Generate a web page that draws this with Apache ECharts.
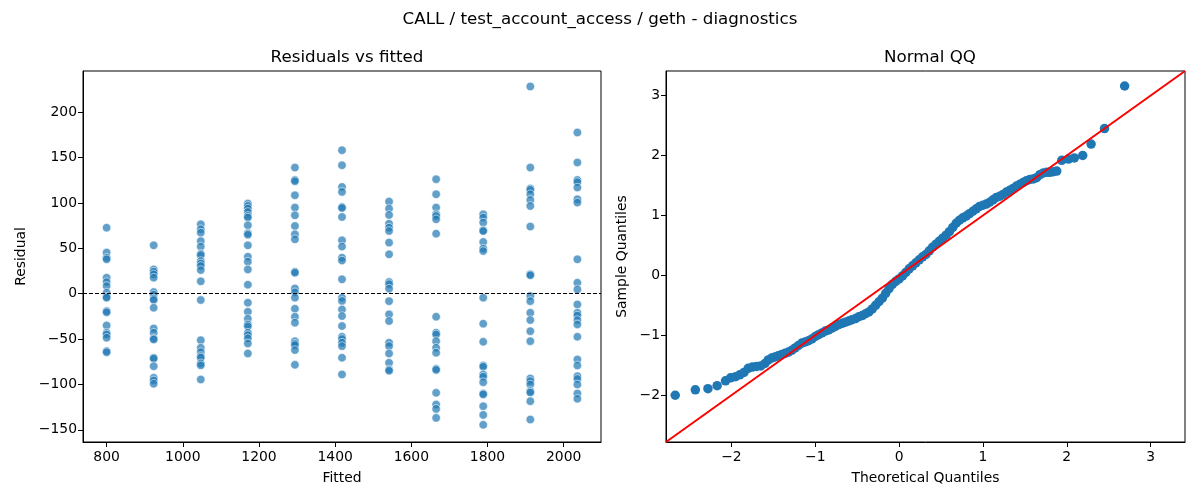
<!DOCTYPE html>
<html>
<head>
<meta charset="utf-8">
<script src="https://cdn.jsdelivr.net/npm/echarts@6/dist/echarts.min.js"></script>
<style>html,body{margin:0;padding:0;background:#fff}#c{width:1200px;height:500px}</style>
</head>
<body>
<div id="c"></div>
<script>
// ---- data ----
const fittedLevels = [800, 923.6, 1047.2, 1170.8, 1294.4, 1418, 1541.6, 1665.2, 1788.8, 1912.4, 2036];
const res800  = [72.8, 45.3, 39.7, 37.9, 17.7, 12.8, 8.4, 1.1, -3.5, -4.4, -19.2, -20.5, -35, -43, -45, -48.6, -63.3, -64.5];
const res924  = [53.3, 26.8, 24.3, 21.3, 17.7, 1.8, -1, -5.5, -7, -15.5, -38.3, -43, -49.3, -50.5, -70.6, -71.5, -79.9, -92.7, -95.6, -99.3];
const res1047 = [76.5, 71, 67.3, 58, 51.9, 44.1, 42.5, 36, 33.4, 30.5, 26, 13.6, -7, -51.2, -59.6, -64.4, -68.8, -70.5, -76.9, -79, -94.6];
const res1171 = [99.3, 96.7, 93.8, 90.1, 85.7, 83.9, 75.4, 66.6, 65, 53.3, 40.8, 35.3, 26.8, 9.9, -9.9, -19.9, -27.6, -33.9, -36, -43, -45.6, -49.3, -54.9, -65.9];
const res1294 = [139, 125.4, 124, 108.5, 94.9, 86.4, 74.6, 65.5, 59.9, 24.3, 23, 5.8, 1.5, -4.4, -16.6, -25.4, -32, -52.3, -54.9, -56.7, -62.2, -78.4];
const res1418 = [158.2, 141.6, 117.7, 112.2, 95.6, 94.5, 84.6, 58.8, 51.9, 39.7, 36.5, 15.8, -4.4, -8, -17.3, -24.7, -35.7, -47.5, -50, -54, -57.8, -70.6, -89];
const res1542 = [101.5, 93.8, 86.8, 77.2, 72.8, 69.1, 56.3, 43.4, 12.8, 10.5, 5.5, -8.2, -22.8, -30.2, -54, -57.8, -65.9, -76.2, -83.6, -85];
const res1665 = [126.2, 109.6, 94.9, 87.5, 85.7, 82, 66.2, -25.4, -43, -45, -52.3, -59.6, -65.1, -82.8, -84, -109.3, -122.2, -127, -136.9];
const res1789 = [87.5, 83.9, 78.4, 69.9, 69, 57, 49.7, 47, -4.4, -33.1, -53, -79.1, -80.5, -89, -91.5, -97.6, -110, -111, -124, -133.6, -144.6];
const res1912 = [228.5, 139, 115.9, 114.5, 109.6, 103.3, 96.7, 74, 21.3, 20.3, -2.6, -8.2, -21, -29.1, -41.3, -52.3, -93.5, -96.4, -100.1, -107.5, -109, -118.5, -138.7];
const res2036 = [177.7, 144.6, 125.4, 123, 117, 104.1, 100.4, 37.9, 12.1, 4.7, -11.8, -21, -24, -29.1, -33.9, -47.5, -72.5, -79.1, -90.9, -94, -100.1, -110, -115.9];

const qqTheoretical = [-2.67,-2.43,-2.28,-2.17,-2.07,-2.01,-1.95,-1.90,-1.85,-1.80,-1.75,-1.70,-1.65,-1.60,-1.56,-1.52,-1.48,-1.44,-1.40,-1.36,-1.32,-1.28,-1.24,-1.20,-1.16,-1.12,-1.08,-1.04,-1.00,-0.96,-0.92,-0.88,-0.84,-0.80,-0.76,-0.72,-0.68,-0.64,-0.60,-0.56,-0.52,-0.48,-0.44,-0.40,-0.36,-0.32,-0.28,-0.24,-0.20,-0.16,-0.12,-0.08,-0.04,0.00,0.04,0.08,0.12,0.16,0.20,0.24,0.28,0.32,0.36,0.40,0.44,0.48,0.52,0.56,0.60,0.64,0.68,0.72,0.76,0.80,0.84,0.88,0.92,0.96,1.00,1.04,1.08,1.12,1.16,1.20,1.24,1.28,1.32,1.36,1.40,1.44,1.48,1.52,1.56,1.60,1.64,1.68,1.72,1.76,1.80,1.84,1.88,1.94,2.02,2.09,2.19,2.29,2.45,2.69];
const qqSample = [-2.00,-1.91,-1.89,-1.84,-1.76,-1.71,-1.69,-1.66,-1.62,-1.55,-1.53,-1.52,-1.51,-1.47,-1.41,-1.38,-1.36,-1.34,-1.32,-1.30,-1.28,-1.25,-1.21,-1.17,-1.13,-1.11,-1.09,-1.06,-1.02,-0.99,-0.96,-0.93,-0.91,-0.88,-0.85,-0.82,-0.80,-0.78,-0.76,-0.74,-0.72,-0.69,-0.67,-0.64,-0.61,-0.56,-0.50,-0.44,-0.38,-0.30,-0.22,-0.15,-0.10,-0.06,-0.01,0.05,0.11,0.16,0.21,0.26,0.31,0.35,0.41,0.47,0.52,0.57,0.62,0.67,0.73,0.80,0.87,0.92,0.96,0.99,1.03,1.07,1.11,1.15,1.17,1.19,1.22,1.26,1.30,1.32,1.35,1.39,1.42,1.45,1.49,1.52,1.55,1.58,1.60,1.61,1.63,1.68,1.71,1.72,1.72,1.73,1.74,1.92,1.94,1.96,2.00,2.19,2.45,3.16];

const leftXTicks = [800, 1000, 1200, 1400, 1600, 1800, 2000];
const leftYTicks = [-150, -100, -50, 0, 50, 100, 150, 200];
const qqTicks = [-2, -1, 0, 1, 2, 3];
const qqRange = [-2.78, 3.41];
const refLine = [[-2.78, -2.78], [3.41, 3.41]];

const titleText = 'CALL / test_account_access / geth - diagnostics';
const leftTitle = 'Residuals vs fitted';
const rightTitle = 'Normal QQ';

// ---- build ----
const groups = [res800, res924, res1047, res1171, res1294, res1418, res1542, res1665, res1789, res1912, res2036];
const residPoints = [];
groups.forEach((g, i) => g.forEach(v => residPoints.push([fittedLevels[i], v])));
const qqPoints = qqTheoretical.map((t, i) => [t, qqSample[i]]);

const FONT = 'DejaVu Sans';
const minus = v => String(v).replace('-', '\u2212');
function axisCommon(ticks, min, max, name, gap, isY) {
  return {
    type: 'value', min: min, max: max, name: name,
    nameLocation: 'middle', nameGap: gap,
    nameTextStyle: { fontFamily: FONT, fontSize: 13.9, color: '#000' },
    axisLine: { show: true, onZero: false, lineStyle: { color: '#000', width: 1 } },
    axisTick: { show: true, inside: false, length: 5, customValues: ticks, lineStyle: { color: '#000' } },
    axisLabel: { customValues: ticks, formatter: minus, fontFamily: FONT, fontSize: 13.9, color: '#000', margin: isY ? 6 : 8 },
    splitLine: { show: false }
  };
}

const chart = echarts.init(document.getElementById('c'), null, { renderer: 'canvas' });
chart.setOption({
  animation: false,
  backgroundColor: '#fff',
  title: [
    { text: titleText, left: 'center', top: 6, textStyle: { fontFamily: FONT, fontSize: 16.7, fontWeight: 'normal', color: '#000' } },
    { text: leftTitle, left: 342, textAlign: 'center', top: 44, textStyle: { fontFamily: FONT, fontSize: 16.7, fontWeight: 'normal', color: '#000' } },
    { text: rightTitle, left: 925, textAlign: 'center', top: 44, textStyle: { fontFamily: FONT, fontSize: 16.7, fontWeight: 'normal', color: '#000' } }
  ],
  grid: [
    { left: 83, top: 71, width: 518, height: 371, show: true, borderColor: '#000', borderWidth: 1, backgroundColor: 'transparent' },
    { left: 666, top: 71, width: 519, height: 371, show: true, borderColor: '#000', borderWidth: 1, backgroundColor: 'transparent' }
  ],
  xAxis: [
    Object.assign(axisCommon(leftXTicks, 738, 2098, 'Fitted', 29, false), { gridIndex: 0 }),
    Object.assign(axisCommon(qqTicks, qqRange[0], qqRange[1], 'Theoretical Quantiles', 29, false), { gridIndex: 1 })
  ],
  yAxis: [
    Object.assign(axisCommon(leftYTicks, -163.5, 245.5, 'Residual', 55, true), { gridIndex: 0 }),
    Object.assign(axisCommon(qqTicks, qqRange[0], qqRange[1], 'Sample Quantiles', 37, true), { gridIndex: 1 })
  ],
  series: [
    {
      type: 'scatter', xAxisIndex: 0, yAxisIndex: 0, data: residPoints, symbolSize: 8.5,
      itemStyle: { color: 'rgba(31,119,180,0.7)', borderColor: 'rgba(255,255,255,0.7)', borderWidth: 0.8, opacity: 1 },
      markLine: {
        silent: true, symbol: 'none', label: { show: false },
        lineStyle: { color: '#000', type: [4, 2], width: 1 },
        data: [{ yAxis: 0 }]
      },
      z: 2
    },
    {
      type: 'scatter', xAxisIndex: 1, yAxisIndex: 1, data: qqPoints, symbolSize: 9.5,
      itemStyle: { color: '#1f77b4', opacity: 1 }, z: 2
    },
    {
      type: 'line', xAxisIndex: 1, yAxisIndex: 1, data: refLine, showSymbol: false, symbol: 'none',
      lineStyle: { color: '#ff0000', width: 2 }, z: 3
    }
  ]
});
</script>
</body>
</html>
